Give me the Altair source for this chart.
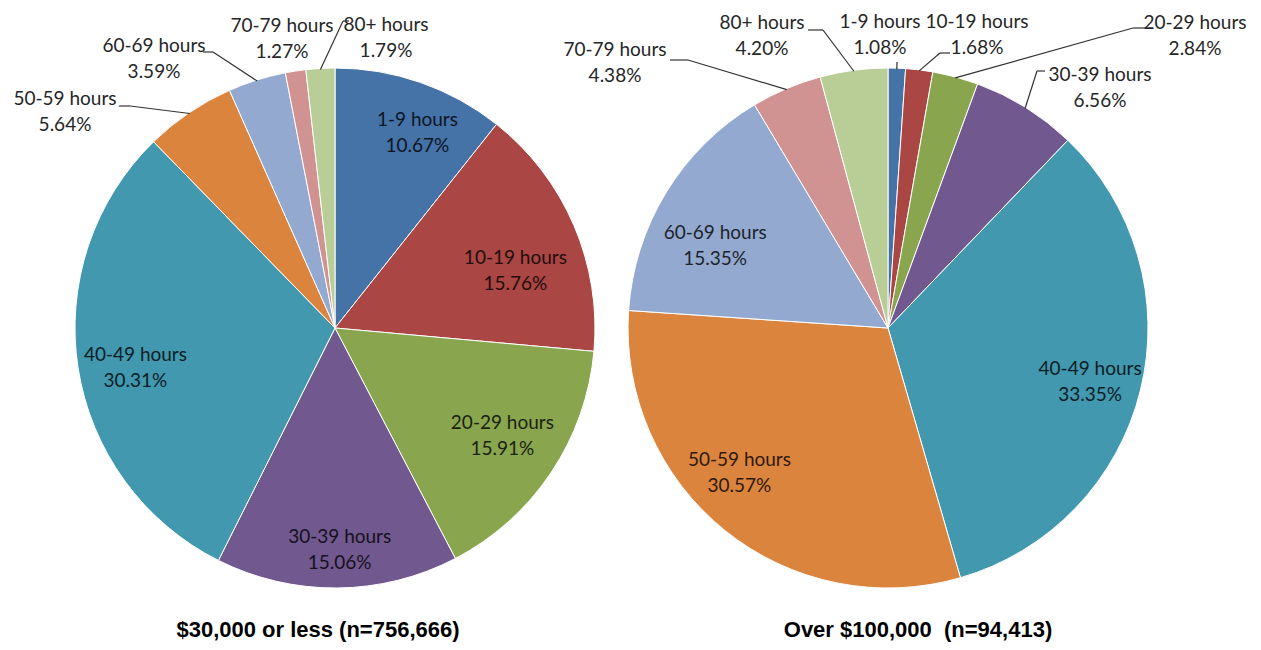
import altair as alt
import pandas as pd

# ---------------- data ----------------
categories = ["1-9 hours", "10-19 hours", "20-29 hours", "30-39 hours", "40-49 hours",
              "50-59 hours", "60-69 hours", "70-79 hours", "80+ hours"]
share_30k_or_less = [10.67, 15.76, 15.91, 15.06, 30.31, 5.64, 3.59, 1.27, 1.79]
share_over_100k = [1.08, 1.68, 2.84, 6.56, 33.35, 30.57, 15.35, 4.38, 4.20]
pie_titles = ["$30,000 or less (n=756,666)", "Over $100,000\u00a0 (n=94,413)"]
slice_colors = ["#4572A7", "#AA4643", "#89A54E", "#71588F", "#4198AF",
                "#DB843D", "#93A9CF", "#D19392", "#B9CD96"]

# ---------------- layout (page pixels) ----------------
OFF = 8
W, H = 1245, 634
R = 260
R_IN = 205
centers = [(335, 328), (888, 328)]
title_pos = [(318, 630), (918, 630)]

# inside labels: nudge from the polar position on the slice's mid angle
inside_nudge = {
    (0, "1-9 hours"): (15, -1),
    (0, "10-19 hours"): (-8, 24),
    (0, "20-29 hours"): (-3, -6),
    (0, "30-39 hours"): (3, 17),
    (0, "40-49 hours"): (3, 9),
    (1, "40-49 hours"): (3, 5),
    (1, "50-59 hours"): (-20, -15),
    (1, "60-69 hours"): (2, 25),
}
# outside labels: label centre, leader start and elbow (None = no leader)
outside = {
    (0, "50-59 hours"): ((65, 112), (119, 106), (130, 106)),
    (0, "60-69 hours"): ((154, 59), (203, 52), (213, 52)),
    (0, "70-79 hours"): ((282, 39), None, None),
    (0, "80+ hours"): ((386, 38), (349, 21), (343, 21)),
    (1, "1-9 hours"): ((880, 35), (897, 62), (897, 62)),
    (1, "10-19 hours"): ((977, 35), (950, 53), (940, 53)),
    (1, "20-29 hours"): ((1195, 36), (1145, 28), (1133, 28)),
    (1, "30-39 hours"): ((1100, 88), (1045, 71), (1037, 71)),
    (1, "70-79 hours"): ((615, 63), (670, 60), (688, 60)),
    (1, "80+ hours"): ((762, 36), (808, 30), (823, 30)),
}

rows = []
for p, vals in enumerate([share_30k_or_less, share_over_100k]):
    for i, (c, v) in enumerate(zip(categories, vals)):
        row = dict(pie=p, cat=c, value=v, order=i,
                   cx=centers[p][0] - OFF, cy=centers[p][1] - OFF,
                   place="in", nx=0, ny=0, lx=0, ly=0, lead=0, sx=0, sy=0, bx=0, by=0)
        if (p, c) in inside_nudge:
            row["nx"], row["ny"] = inside_nudge[(p, c)]
        else:
            (lx, ly), s, b = outside[(p, c)]
            row.update(place="out", lx=lx - OFF, ly=ly - OFF)
            if s is not None:
                row.update(lead=1, sx=s[0] - OFF, sy=s[1] - OFF, bx=b[0] - OFF, by=b[1] - OFF)
        rows.append(row)
df = pd.DataFrame(rows)

titles_df = pd.DataFrame({
    "title": pie_titles,
    "tx": [t[0] - OFF for t in title_pos],
    "ty": [t[1] - OFF for t in title_pos],
})

base = (
    alt.Chart(df)
    .transform_window(cum="sum(value)", groupby=["pie"], sort=[alt.SortField("order")], frame=[None, 0])
    .transform_joinaggregate(total="sum(value)", groupby=["pie"])
    .transform_calculate(start="2*PI*(datum.cum-datum.value)/datum.total")
    .transform_calculate(end="2*PI*datum.cum/datum.total")
    .transform_calculate(mid="(datum.start+datum.end)/2")
    .transform_calculate(ex=f"datum.cx + {R - 1}*sin(datum.mid)")
    .transform_calculate(ey=f"datum.cy - {R - 1}*cos(datum.mid)")
    .transform_calculate(ix=f"datum.cx + {R_IN}*sin(datum.mid) + datum.nx")
    .transform_calculate(iy=f"datum.cy - {R_IN}*cos(datum.mid) + datum.ny")
    .transform_calculate(pct="format(datum.value, '.2f') + '%'")
)

def px(field):
    return alt.X(f"{field}:Q", scale=None, axis=None)

def py(field):
    return alt.Y(f"{field}:Q", scale=None, axis=None)

arcs = base.mark_arc(radius=R, stroke="white", strokeWidth=1).encode(
    x=px("cx"), y=py("cy"),
    theta=alt.Theta("start:Q", scale=None, stack=False),
    theta2="end:Q",
    color=alt.Color("cat:N", scale=alt.Scale(domain=categories, range=slice_colors), legend=None),
)

LABEL_FONT = "Lato"
LABEL_SIZE = 19

inside = base.transform_filter("datum.place == 'in'")
in_name = inside.mark_text(font=LABEL_FONT, fontSize=LABEL_SIZE, dy=-13, color="black", opacity=0.8).encode(
    x=px("ix"), y=py("iy"), text="cat:N")
in_pct = inside.mark_text(font=LABEL_FONT, fontSize=LABEL_SIZE, dy=13, color="black", opacity=0.8).encode(
    x=px("ix"), y=py("iy"), text="pct:N")

out = base.transform_filter("datum.place == 'out'")
out_name = out.mark_text(font=LABEL_FONT, fontSize=LABEL_SIZE, dy=-13, color="#262626").encode(
    x=px("lx"), y=py("ly"), text="cat:N")
out_pct = out.mark_text(font=LABEL_FONT, fontSize=LABEL_SIZE, dy=13, color="#262626").encode(
    x=px("lx"), y=py("ly"), text="pct:N")

lead = base.transform_filter("datum.lead == 1")
lead1 = lead.mark_rule(color="#333333", strokeWidth=1.2).encode(
    x=px("sx"), y=py("sy"), x2="bx:Q", y2="by:Q")
lead2 = lead.mark_rule(color="#333333", strokeWidth=1.2).encode(
    x=px("bx"), y=py("by"), x2="ex:Q", y2="ey:Q")

titles = alt.Chart(titles_df).mark_text(
    font="Liberation Sans", fontWeight="bold", fontSize=22, color="black"
).encode(x=px("tx"), y=py("ty"), text="title:N")

chart = (
    alt.layer(arcs, lead1, lead2, in_name, in_pct, out_name, out_pct, titles)
    .properties(width=W, height=H, padding=0, autosize=alt.AutoSizeParams(type="none"),
                background="white")
    .configure_view(stroke=None)
)

chart.save("out.html", embed_options={"renderer": "svg", "actions": False})
